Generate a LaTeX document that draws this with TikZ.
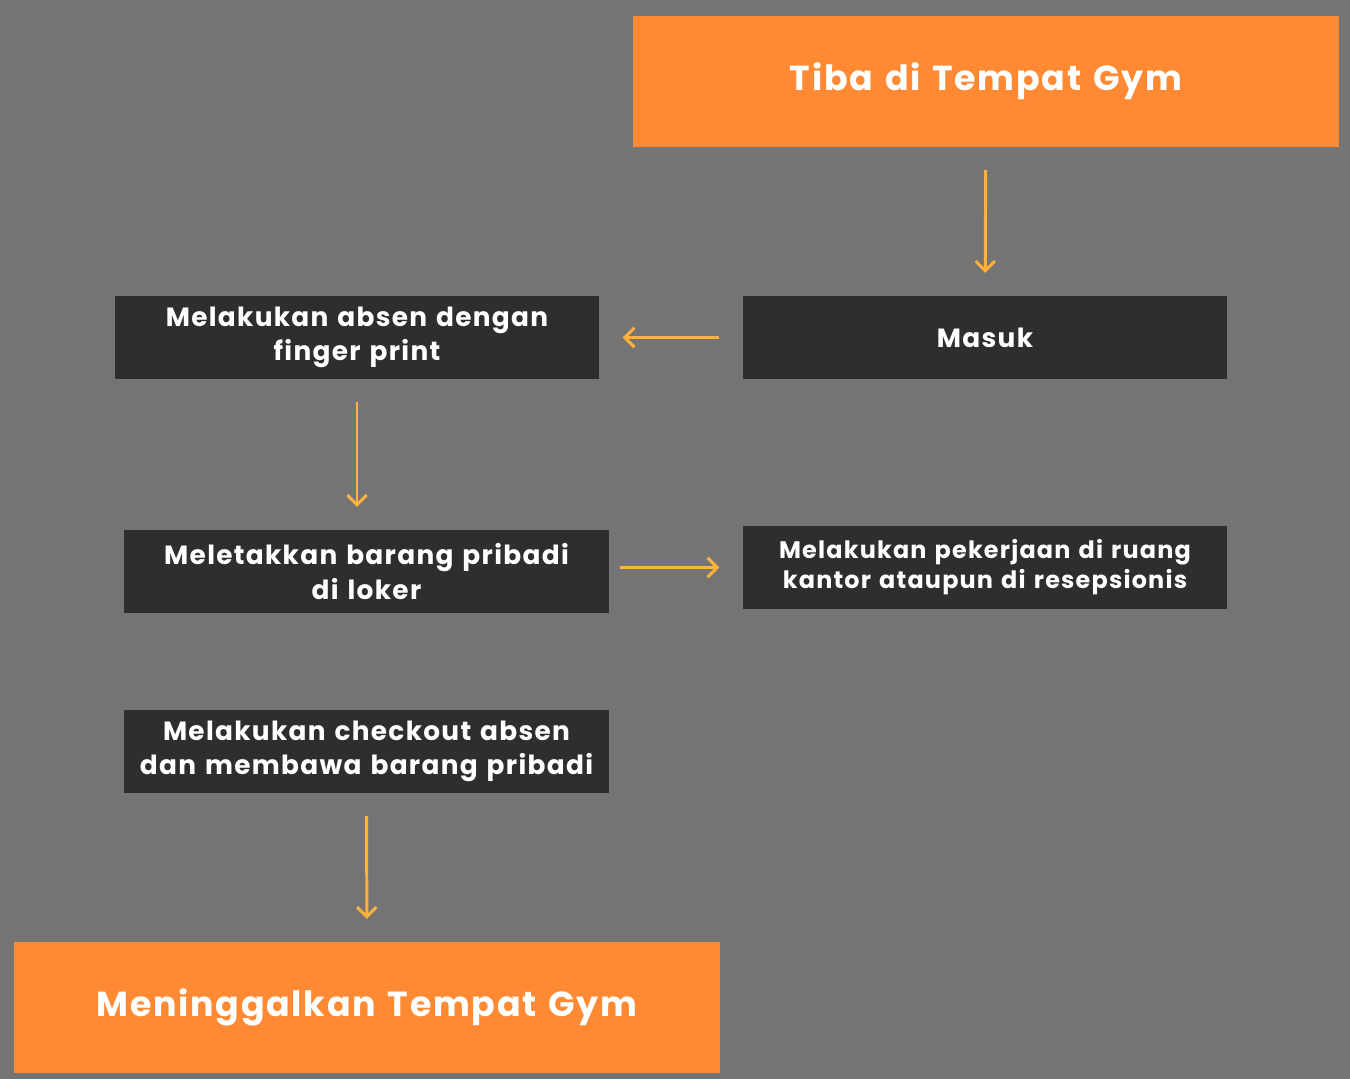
\documentclass[tikz,border=0pt]{standalone}
\usepackage{fontspec}
\setmainfont{Poppins}[LetterSpace=5, WordSpace=1.3]
\usepackage{tikz}
\usetikzlibrary{arrows.meta}
\definecolor{bggray}{HTML}{747474}
\definecolor{boxdark}{HTML}{2E2E2E}
\definecolor{gymorange}{HTML}{FF8A33}
\definecolor{arrowamber}{HTML}{FFB13B}

\begin{document}
\begin{tikzpicture}[x=0.02cm, y=-0.02cm,
    bigbox/.style={fill=gymorange, text=white, font=\bfseries\fontsize{19.8}{24}\selectfont, minimum width=14.12cm, minimum height=2.62cm, inner sep=0pt},
    stepbox/.style={fill=boxdark, text=white, font=\bfseries\fontsize{15}{19.5}\selectfont, minimum width=9.7cm, minimum height=1.66cm, inner sep=0pt, align=center},
    flow/.style={arrowamber, line width=1.7pt, -{Straight Barb[length=5.5pt, width=11pt, line width=1.7pt]}, shorten <=13pt, shorten >=13pt}]
    \fill[bggray] (0, 0) rectangle (1350, 1079);
    \node[bigbox] (tiba) at (986, 81.5) {Tiba di Tempat Gym};
    \node[stepbox] (masuk) at (985, 337.5) {Masuk};
    \node[stepbox] (absen) at (357, 337.5) {Melakukan absen dengan\\finger print};
    \node[stepbox] (letak) at (366.5, 571.5) {Meletakkan barang pribadi\\di loker};
    \node[stepbox, font=\bfseries\fontsize{13.6}{17}\selectfont] (kerja) at (985, 567.5) {Melakukan pekerjaan di ruang\\kantor ataupun di resepsionis};
    \node[stepbox] (checkout) at (366.5, 751.5) {Melakukan checkout absen\\dan membawa barang pribadi};
    \node[bigbox] (pulang) at (367, 1007.5) {Meninggalkan Tempat Gym};
    \draw[flow] (tiba) -- (masuk);
    \draw[flow] (masuk) -- (absen);
    \draw[flow] (absen.south) -- (absen.south |- letak.north);
    \draw[flow, shorten <=6pt] (kerja.west -| letak.east) -- (kerja.west);
    \draw[flow] (checkout) -- (pulang);
\end{tikzpicture}
\end{document}
